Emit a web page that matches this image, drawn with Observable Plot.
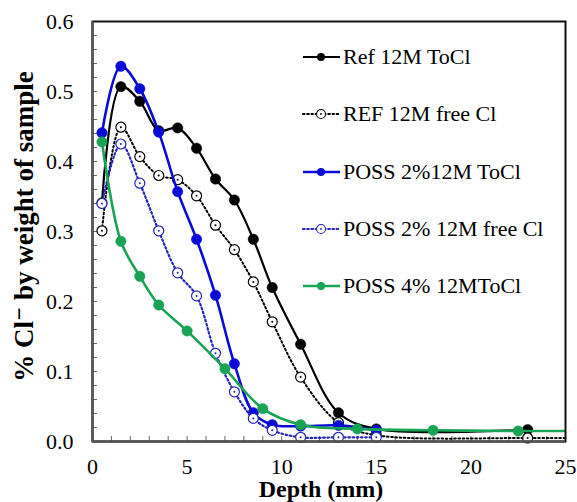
<!DOCTYPE html>
<html><head><meta charset="utf-8">
<script src="https://cdn.jsdelivr.net/npm/d3@7"></script>
<script src="https://cdn.jsdelivr.net/npm/@observablehq/plot@0.6"></script>
<style>
body{margin:0;background:#fff;}
#wrap{position:relative;width:577px;height:502px;font-family:"Times New Roman","Liberation Serif",Tinos,"DejaVu Serif",serif;}
#wrap svg, #wrap svg text{font-family:"Times New Roman","Liberation Serif",Tinos,"DejaVu Serif",serif !important;}
.item{position:absolute;display:flex;align-items:center;font-size:22px;white-space:nowrap;color:#000;line-height:1;}
.item svg{display:block;margin-right:2px;}
</style></head><body><div id="wrap"></div>
<script>
// ---- data ----
const depthA = [0.5,1.5,2.5,3.5,4.5,5.5,6.5,7.5,8.5,9.5,11,13,15,23];
const refToCl = [0.341,0.507,0.486,0.444,0.448,0.419,0.375,0.345,0.289,0.220,0.139,0.041,0.018,0.017];
const refFree = [0.301,0.449,0.407,0.380,0.374,0.351,0.309,0.274,0.228,0.171,0.092,0.027,0.009,0.005];
const depthB = [0.5,1.5,2.5,3.5,4.5,5.5,6.5,7.5,8.5,9.5,11,13,15];
const poss2ToCl = [0.441,0.536,0.504,0.442,0.357,0.289,0.209,0.111,0.041,0.024,0.022,0.023,0.016];
const poss2Free = [0.340,0.425,0.369,0.301,0.241,0.208,0.126,0.071,0.033,0.016,0.006,0.006,0.006];
const depthC = [0.5,1.5,2.5,3.5,5,7,9,11,14,18,22.5];
const poss4ToCl = [0.428,0.286,0.236,0.195,0.158,0.104,0.047,0.024,0.018,0.016,0.015];
// line tails running to the right edge of the frame
const tailDepth = 25;
const refFreeTail = 0.005;
const poss4Tail = 0.015;

const seriesNames = ["Ref 12M ToCl","REF 12M free Cl","POSS 2%12M ToCl","POSS 2% 12M free Cl","POSS 4% 12MToCl"];
const xTicks = [0,5,10,15,20,25];
const yTicks = [0,0.1,0.2,0.3,0.4,0.5,0.6];
const xMinor = d3.range(1,25,1);
const yMinor = d3.range(0.02,0.6,0.02);
const xLabel = "Depth (mm)";
const yLabel = "% Cl\u207B by weight of sample";

// ---- styles ----
const FONT = '"Times New Roman","Liberation Serif",Tinos,"DejaVu Serif",serif';
const BLUE = "#0a0ad6", BLUE2 = "#2626b8", GREEN = "#19a354";
const styles = [
  {color:"#000", dash:null, open:false, w:2.2},
  {color:"#000", dash:"1.6 2.6", open:true, w:2},
  {color:BLUE, dash:null, open:false, w:2.6},
  {color:BLUE2, dash:"1.6 2.6", open:true, w:2.2},
  {color:GREEN, dash:null, open:false, w:2.6}
];

const zip = (xs, ys, name) => xs.map((x,i)=>({x, y: ys[i], name}));
const pts = [
  zip(depthA, refToCl, seriesNames[0]),
  zip(depthA, refFree, seriesNames[1]),
  zip(depthB, poss2ToCl, seriesNames[2]),
  zip(depthB, poss2Free, seriesNames[3]),
  zip(depthC, poss4ToCl, seriesNames[4])
];
const linePts = pts.map(a => a.slice());
linePts[1].push({x: tailDepth, y: refFreeTail, name: seriesNames[1]});
linePts[4].push({x: tailDepth, y: poss4Tail, name: seriesNames[4]});

const W = 577, H = 502, ML = 92, MR = 12, MT = 21, MB = 61;
const FW = W - ML - MR, FH = H - MT - MB;

const marks = [
  Plot.ruleX(xMinor, {stroke:"#666", strokeWidth:1, insetTop: FH - 5}),
  Plot.ruleY(yMinor, {stroke:"#666", strokeWidth:1, insetRight: FW - 5}),
];
pts.forEach((p, i) => {
  const s = styles[i];
  marks.push(Plot.line(linePts[i], {x:"x", y:"y", stroke:s.color, strokeWidth:s.w,
    strokeDasharray: s.dash || undefined, curve:"catmull-rom", strokeLinecap: s.dash ? "round" : "butt"}));
  if (s.open) {
    marks.push(Plot.dot(p, {x:"x", y:"y", r:5, fill:"white", stroke:s.color, strokeWidth:1.2}));
    marks.push(Plot.dot(p, {x:"x", y:"y", r:1, fill:s.color}));
  } else {
    marks.push(Plot.dot(p, {x:"x", y:"y", r:5.2, fill:s.color, stroke:s.color, strokeWidth:0.5}));
  }
});
marks.push(
  Plot.frame({stroke:"#111", strokeWidth:2}),
  Plot.ruleX([0], {stroke:"#555", strokeWidth:2.5}),
  Plot.ruleY([0], {stroke:"#555", strokeWidth:2.5}),
  Plot.axisX(xTicks, {tickSize:0, tickPadding:17, fontSize:22, label:null}),
  Plot.axisY(yTicks, {tickSize:0, tickPadding:19, fontSize:22, label:null, tickFormat: d3.format(".1f")}),
  Plot.text([xLabel], {frameAnchor:"bottom", lineAnchor:"bottom", dy:55, dx:-8, fontWeight:"bold", fontSize:24}),
  Plot.text([yLabel], {frameAnchor:"left", textAnchor:"middle", lineAnchor:"middle", rotate:-90, dx:-68, dy:-5, fontWeight:"bold", fontSize:27})
);

const chart = Plot.plot({
  width: W, height: H,
  marginLeft: ML, marginRight: MR, marginTop: MT, marginBottom: MB,
  x: {domain:[0,25]},
  y: {domain:[0,0.6]},
  style: {fontFamily: FONT, fontSize:"22px", color:"#000", background:"#fff"},
  marks
});
const wrap = document.getElementById("wrap");
wrap.appendChild(chart);

// ---- legend (HTML overlay) ----
const legTop = 57, legStep = 57.3, legLeft = 302;
seriesNames.forEach((name, i) => {
  const s = styles[i];
  const div = document.createElement("div");
  div.className = "item";
  div.style.left = legLeft + "px";
  div.style.top = (legTop + i*legStep - 12) + "px";
  div.style.height = "24px";
  const ns = "http://www.w3.org/2000/svg";
  const svg = document.createElementNS(ns, "svg");
  svg.setAttribute("width", 39); svg.setAttribute("height", 14);
  const ln = document.createElementNS(ns, "line");
  ln.setAttribute("x1", 1); ln.setAttribute("x2", 38); ln.setAttribute("y1", 7); ln.setAttribute("y2", 7);
  ln.setAttribute("stroke", s.color); ln.setAttribute("stroke-width", s.w);
  if (s.dash) { ln.setAttribute("stroke-dasharray", s.dash); ln.setAttribute("stroke-linecap","round"); }
  svg.appendChild(ln);
  const c = document.createElementNS(ns, "circle");
  c.setAttribute("cx", 19); c.setAttribute("cy", 7);
  if (s.open) {
    c.setAttribute("r", 4.5); c.setAttribute("fill","white"); c.setAttribute("stroke", s.color); c.setAttribute("stroke-width", 1.1);
    svg.appendChild(c);
    const c2 = document.createElementNS(ns, "circle");
    c2.setAttribute("cx", 19); c2.setAttribute("cy", 7); c2.setAttribute("r", 0.9); c2.setAttribute("fill", s.color);
    svg.appendChild(c2);
  } else {
    c.setAttribute("r", 4); c.setAttribute("fill", s.color);
    svg.appendChild(c);
  }
  div.appendChild(svg);
  const t = document.createElement("span");
  t.textContent = name;
  div.appendChild(t);
  wrap.appendChild(div);
});
</script></body></html>
